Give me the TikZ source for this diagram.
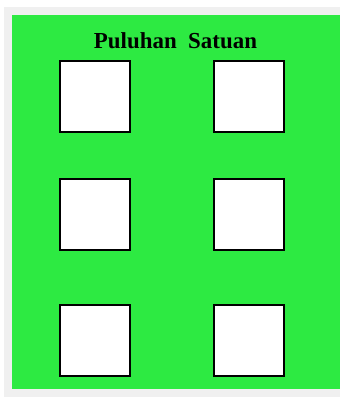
\documentclass[tikz,border=0pt]{standalone}
\usepackage{fontspec}
\setmainfont{Liberation Serif}
\definecolor{hijau}{HTML}{2DEA42}
\definecolor{abu}{HTML}{F0F0F0}
\begin{document}
\begin{tikzpicture}[x=1bp,y=-1bp,
        kotak/.style={draw=black, fill=white, line width=1.8bp, inner sep=0pt,
            minimum width=70bp, minimum height=71bp},
        judul/.style={font=\fontsize{23}{28}\selectfont\bfseries, anchor=base, inner sep=0pt}]
        \useasboundingbox (0,0) rectangle (340,397);
        \fill[white] (0,0) rectangle (340,397);
        \fill[abu] (4,7) rectangle (340,397);
        \fill[hijau] (12,15) rectangle (340,389);
        
        \node[judul] (judul) at (175.5,48) {Puluhan\hspace{0.5em}Satuan};
        
        % kolom kiri = puluhan, kolom kanan = satuan
        \foreach \i/\y in {1/96.5,2/214.5,3/340.5} {
            \node[kotak] (puluhan-\i) at (95,\y) {};
            \node[kotak] (satuan-\i) at (249,\y) {};
        }
    \end{tikzpicture}
\end{document}
